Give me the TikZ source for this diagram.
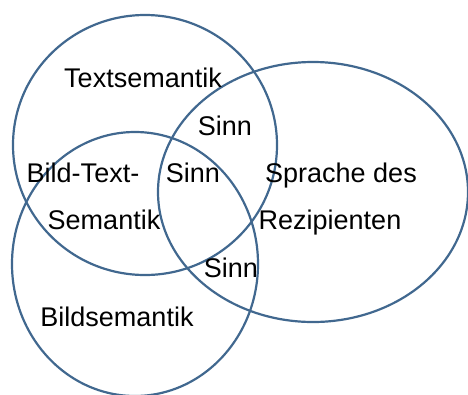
\documentclass[tikz,border=0pt]{standalone}
\usepackage{fontspec}
\setmainfont{Liberation Sans}
\definecolor{ring}{HTML}{41688F}
\begin{document}
\begin{tikzpicture}[x=1pt,y=-1pt,
  ring/.style={draw=ring,line width=2.2pt},
  lbl/.style={anchor=base,inner sep=0pt,font=\fontsize{27}{30}\selectfont}]
\useasboundingbox (0,0) rectangle (468,394);
\begin{scope}
\clip (0,0) rectangle (468,394);
\draw[ring] (145,145) ellipse [x radius=132,y radius=130];
\draw[ring] (135,264) ellipse [x radius=123,y radius=132];
\draw[ring] (313,192) ellipse [x radius=155,y radius=130];
\end{scope}
\node[lbl] (ts) at (143,87) {Textsemantik};
\node[lbl] (s1) at (225,135) {Sinn};
\node[lbl] (bt1) at (83,182) {Bild-Text-};
\node[lbl] (s2) at (193,182) {Sinn};
\node[lbl] (sp1) at (341,182) {Sprache des};
\node[lbl] (bt2) at (104,229) {Semantik};
\node[lbl] (sp2) at (330,229) {Rezipienten};
\node[lbl] (s3) at (231,277) {Sinn};
\node[lbl] (bs) at (117,326) {Bildsemantik};
\end{tikzpicture}
\end{document}
